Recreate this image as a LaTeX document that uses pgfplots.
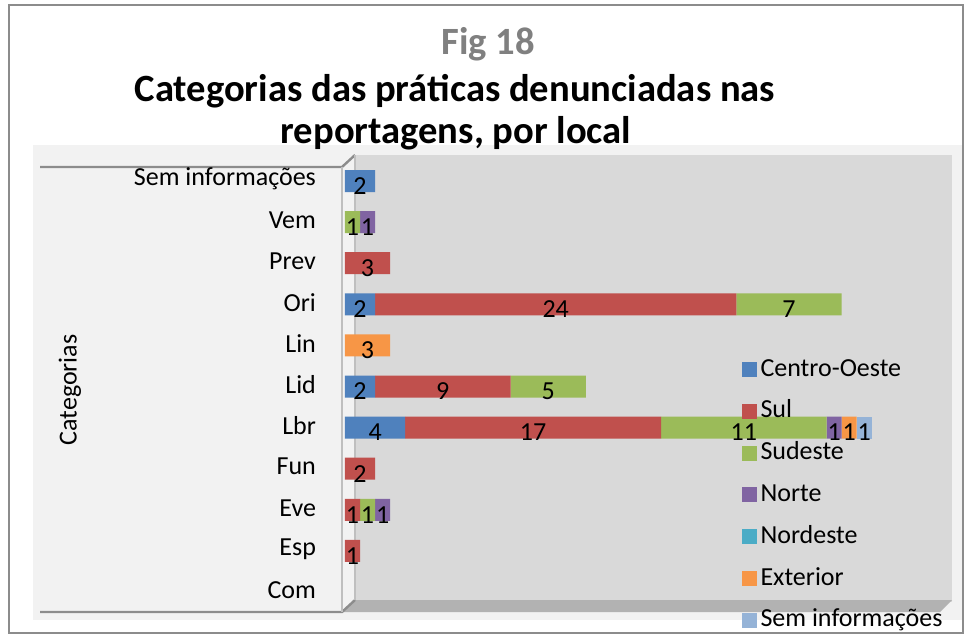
\documentclass[border=0pt]{standalone}
\usepackage{pgfplots}
\pgfplotsset{compat=1.18}
\usepackage{pgfplotstable}
\usepackage{fontspec}
\setmainfont{Carlito}

\definecolor{co}{HTML}{4F81BD}
\definecolor{sul}{HTML}{C0504D}
\definecolor{sud}{HTML}{9BBB59}
\definecolor{nor}{HTML}{8064A2}
\definecolor{nde}{HTML}{4BACC6}
\definecolor{ext}{HTML}{F79646}
\definecolor{sin}{HTML}{95B3D7}

% y: 0=Com 1=Esp 2=Eve 3=Fun 4=Lbr 5=Lid 6=Lin 7=Ori 8=Prev 9=Vem 10=Sem informacoes
\pgfplotstableread{
c v
0 0
1 0
2 0
3 0
4 4
5 2
6 0
7 2
8 0
9 0
10 2
}\tco
\pgfplotstableread{
c v
0 0
1 1
2 1
3 2
4 17
5 9
6 0
7 24
8 3
9 0
10 0
}\tsul
\pgfplotstableread{
c v
0 0
1 0
2 1
3 0
4 11
5 5
6 0
7 7
8 0
9 1
10 0
}\tsud
\pgfplotstableread{
c v
0 0
1 0
2 1
3 0
4 1
5 0
6 0
7 0
8 0
9 1
10 0
}\tnor
\pgfplotstableread{
c v
0 0
1 0
2 0
3 0
4 0
5 0
6 0
7 0
8 0
9 0
10 0
}\tnde
\pgfplotstableread{
c v
0 0
1 0
2 0
3 0
4 1
5 0
6 3
7 0
8 0
9 0
10 0
}\text
\pgfplotstableread{
c v
0 0
1 0
2 0
3 0
4 1
5 0
6 0
7 0
8 0
9 0
10 0
}\tsin

\pgfplotsset{cyl/.style={draw=none, fill=#1,
  legend image code/.code={\fill[#1] (0pt,-3.75pt) rectangle (7.5pt,3.75pt);}}}

\begin{document}
\begin{tikzpicture}
\useasboundingbox (0,0) rectangle (485.5pt,-319.5pt);
\begin{scope}[x=0.5pt,y=-0.5pt]
\fill[white] (0,0) rectangle (971,639);
\draw[gray!90, line width=1pt] (9,5) rectangle (963,633);
% plot area
\fill[black!5] (33,145) rectangle (962,620);
% back wall
\fill[black!15] (355,155) rectangle (952,602);
% floor
\fill[black!30] (342,612) -- (355,600) -- (952,600) -- (940,612) -- cycle;
% left wall
\fill[black!5] (40,167) rectangle (342,612);
\draw[black!45, line width=1.2pt] (40,167) -- (342,167) -- (355,155);
\draw[black!45, line width=1.2pt] (40,612) -- (342,612) -- (355,600);
\draw[black!25, line width=0.8pt] (342,167) -- (342,612);
\draw[black!25, line width=0.8pt] (355,155) -- (355,600);
% titles
\node[anchor=base, font=\bfseries\fontsize{19.3}{23}\selectfont, text=black!50] at (488,54) {Fig 18};
\node[anchor=base, font=\bfseries\fontsize{19.3}{23}\selectfont] at (455,101) {Categorias das práticas denunciadas nas};
\node[anchor=base, font=\bfseries\fontsize{19.3}{23}\selectfont] at (456,143) {reportagens, por local};
\node[rotate=90, font=\fontsize{13}{15}\selectfont] at (70,390) {Categorias};
\end{scope}

\begin{axis}[
  at={(172.5pt,-80.25pt)}, anchor=north west,
  scale only axis, width=301pt, height=226pt,
  xbar stacked, bar width=11pt,
  xmin=0, xmax=40, ymin=-0.5, ymax=10.5,
  xtick=\empty,
  ytick={0,...,10},
  yticklabels={Com,Esp,Eve,Fun,Lbr,Lid,Lin,Ori,Prev,Vem,Sem informações},
  yticklabel style={font=\fontsize{13}{15}\selectfont, xshift=-11pt, yshift=1pt},
  major tick length=0pt,
  axis line style={draw=none},
  /pgf/number format/assume math mode=true,
  point meta=explicit,
  nodes near coords={\pgfmathfloatifflags{\pgfplotspointmeta}{0}{}{\pgfmathprintnumber{\pgfplotspointmeta}}},
  every node near coord/.append style={anchor=center, yshift=-2.5pt,
     font=\fontsize{13}{15}\selectfont, text=black},
  legend cell align=left,
  legend style={at={(0.658,0.575)}, anchor=north west, draw=none, fill=none,
     font=\fontsize{13}{15}\selectfont, row sep=4.4pt, inner sep=0pt,
     nodes={text height=9.5pt, text depth=3pt, inner sep=2pt}},
]
\addplot[cyl=co] table[x=v, y=c, meta=v] {\tco};
\addplot[cyl=sul] table[x=v, y=c, meta=v] {\tsul};
\addplot[cyl=sud] table[x=v, y=c, meta=v] {\tsud};
\addplot[cyl=nor] table[x=v, y=c, meta=v] {\tnor};
\addplot[cyl=nde] table[x=v, y=c, meta=v] {\tnde};
\addplot[cyl=ext] table[x=v, y=c, meta=v] {\text};
\addplot[cyl=sin] table[x=v, y=c, meta=v] {\tsin};
\legend{Centro-Oeste,Sul,Sudeste,Norte,Nordeste,Exterior,Sem informações}
\end{axis}
\end{tikzpicture}
\end{document}
